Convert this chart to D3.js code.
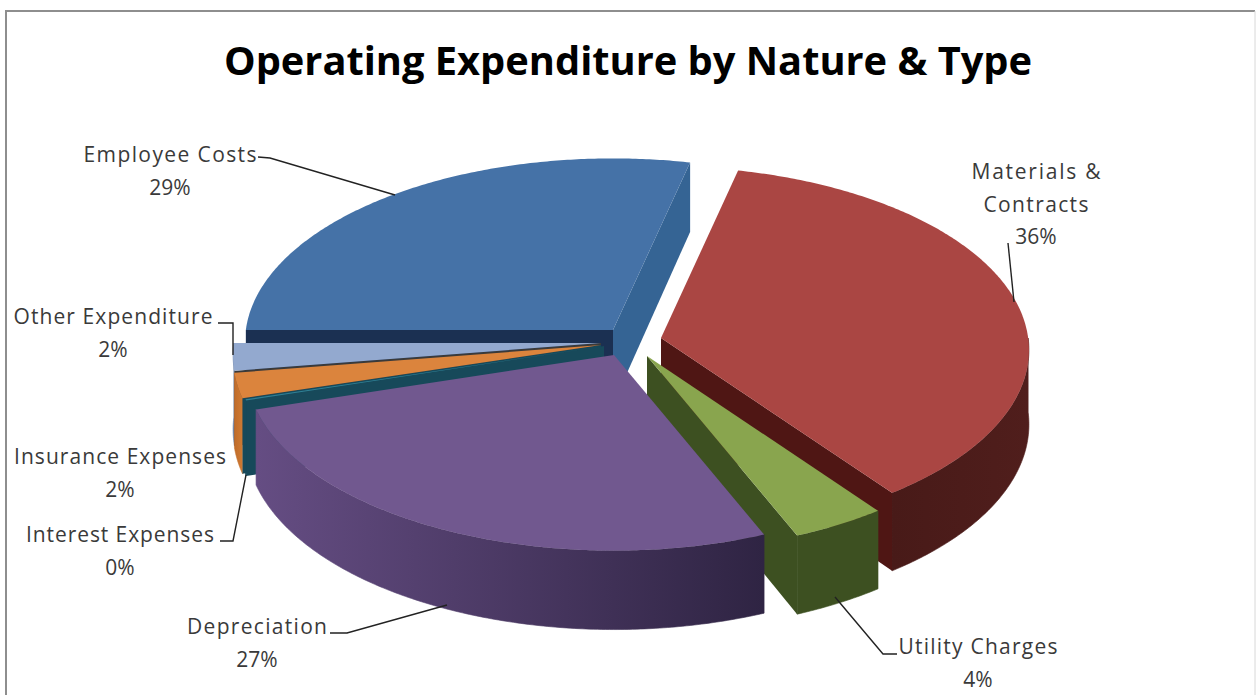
<!DOCTYPE html>
<html>
<head>
<meta charset="utf-8">
<title>Operating Expenditure by Nature &amp; Type</title>
<script src="https://cdn.jsdelivr.net/npm/d3@7"></script>
<style>
  html, body { margin: 0; padding: 0; background: #fff; }
  svg { display: block; }
  text { font-family: "Open Sans", "Noto Sans", sans-serif; }
</style>
</head>
<body>
<svg id="chart" width="1256" height="695"></svg>
<script>
// Chart content
const chartTitle = "Operating Expenditure by Nature & Type";
const categories = ["Employee Costs", "Materials & Contracts", "Utility Charges", "Depreciation",
                    "Interest Expenses", "Insurance Expenses", "Other Expenditure"];
const shares = [28.6, 36.2, 3.9, 26.6, 0.1, 2.2, 2.4];

// Slice colours: top face, wall (start and end of a horizontal gradient), radial side face
const topColors = ["#4572a7", "#aa4643", "#89a54e", "#71588f", "#2f7f94", "#db843d", "#93a9cf"];
const wallFrom = ["#2a4a75", "#501e1c", "#3d5021", "#654d83", "#17495a", "#cf7a33", "#6c83a8"];
const wallTo = ["#2a4a75", "#481a18", "#3d5021", "#2f2443", "#17495a", "#c06c2a", "#6c83a8"];
const startFaceColors = ["#1b3052", "#4a1a18", "#3d5021", "#3a2c52", "#17495a", "#17495a", "#3a3a3a"];
const endFaceColors = ["#356494", "#4f1614", "#3d5021", "#3a2c52", "#17495a", "#17495a", "#17495a"];

// Position of each slice's apex once exploded, same order as the categories
const apexes = [[613, 330], [661, 338], [647, 356], [614, 355], [604, 346], [601, 345], [601, 343]];

// Painter's order, back to front
const drawOrder = [0, 6, 5, 4, 1, 2, 3];

// Data label placement: text centre, first baseline, fitted name widths, leader polyline
const labelLayout = [
  { x: 170, y: 162, widths: [173], leader: [[258, 157], [270, 158], [395, 195]] },
  { x: 1036, y: 179, widths: [129, 105], leader: [[1008, 243], [1014, 302]], wrap: true },
  { x: 978, y: 654, widths: [159], leader: [[897, 654], [883, 654], [835, 597]] },
  { x: 257, y: 634, widths: [140], leader: [[330, 633], [347, 633], [447, 605]] },
  { x: 120, y: 542, widths: [188], leader: [[220, 541], [233, 541], [246, 475]] },
  { x: 120, y: 464, widths: [212], leader: [] },
  { x: 113, y: 324, widths: [199], leader: [[218, 323], [233, 323], [233, 355]] }
];

const radiusX = 369;
const tilt = 0.5;
const depth = 74.5;
const lineGap = 32.5;

const svg = d3.select("#chart");
const defs = svg.append("defs");

// Frame around the chart area
svg.append("path").attr("d", "M6,695V11H1255").attr("fill", "none").attr("stroke", "#8e8e8e").attr("stroke-width", 2);
svg.append("path").attr("d", "M1255,11V695").attr("fill", "none").attr("stroke", "#d8d8d8").attr("stroke-width", 1);

svg.append("text").attr("x", 628).attr("y", 75).attr("text-anchor", "middle")
  .attr("font-size", 40).attr("font-weight", 700).attr("fill", "#000")
  .attr("textLength", 808).attr("lengthAdjust", "spacingAndGlyphs").text(chartTitle);

// Clockwise from nine o'clock, angles measured from twelve o'clock
const pie = d3.pie().sort(null).startAngle(1.5 * Math.PI).endAngle(3.5 * Math.PI);
const slices = pie(shares);

// Nearer points are drawn larger to give the disc its perspective
const perspective = d3.scaleLinear().domain([-1, 1]).range([0.93, 1.06]);

function project(i, angle, lowered) {
  const v = -Math.cos(angle);
  const s = perspective(v);
  return [
    apexes[i][0] + radiusX * s * Math.sin(angle),
    apexes[i][1] + radiusX * s * tilt * v + (lowered ? depth * s : 0)
  ];
}

function arcPoints(i, a0, a1, lowered) {
  const steps = Math.max(2, Math.ceil((a1 - a0) / 0.01));
  return d3.range(steps + 1).map(k => project(i, a0 + (a1 - a0) * k / steps, lowered));
}

const line = d3.line().curve(d3.curveLinear);
const apexPoint = (i, lowered) => {
  const s = perspective(0);
  return [apexes[i][0], apexes[i][1] + (lowered ? depth * s : 0)];
};

const sliceGroups = svg.append("g").selectAll("g").data(drawOrder).join("g");

sliceGroups.each(function (i) {
  const d = slices[i];
  const g = d3.select(this);
  const top = arcPoints(i, d.startAngle, d.endAngle, false);
  const bottom = arcPoints(i, d.startAngle, d.endAngle, true);

  // Outer wall: only the part of the arc on the near half of the disc is drawn
  const wrapped = [0, 2 * Math.PI].map(o => [
    Math.max(d.startAngle, Math.PI / 2 + o),
    Math.min(d.endAngle, 1.5 * Math.PI + o)
  ]).filter(r => r[1] > r[0]);
  wrapped.forEach(([a0, a1]) => {
    const upper = arcPoints(i, a0, a1, false);
    const lower = arcPoints(i, a0, a1, true);
    const xs = d3.extent(upper, p => p[0]);
    const gradId = "wall-" + i;
    const leftFirst = i === 3;
    const grad = defs.append("linearGradient").attr("id", gradId)
      .attr("gradientUnits", "userSpaceOnUse")
      .attr("x1", xs[0]).attr("x2", xs[1]).attr("y1", 0).attr("y2", 0);
    grad.append("stop").attr("offset", 0).attr("stop-color", leftFirst ? wallFrom[i] : wallTo[i]);
    grad.append("stop").attr("offset", 1).attr("stop-color", leftFirst ? wallTo[i] : wallFrom[i]);
    g.append("path").attr("fill", `url(#${gradId})`).attr("stroke", `url(#${gradId})`).attr("stroke-width", 0.6)
      .attr("d", line(upper.concat(lower.slice().reverse())) + "Z");
  });

  // Radial faces, kept only when they turn towards the viewer
  if (Math.sin(d.startAngle) < 0) {
    g.append("path").attr("fill", startFaceColors[i])
      .attr("d", line([apexPoint(i, false), top[0], bottom[0], apexPoint(i, true)]) + "Z");
  }
  if (Math.sin(d.endAngle) > 0) {
    g.append("path").attr("fill", endFaceColors[i])
      .attr("d", line([apexPoint(i, false), top[top.length - 1], bottom[bottom.length - 1], apexPoint(i, true)]) + "Z");
  }

  // Top face
  g.append("path").attr("fill", topColors[i])
    .attr("d", line([apexPoint(i, false)].concat(top)) + "Z");
});

// Data labels and leader lines
const labels = svg.append("g").selectAll("g").data(categories).join("g");

labels.each(function (name, i) {
  const layout = labelLayout[i];
  const g = d3.select(this);
  if (layout.leader.length) {
    g.append("path").attr("fill", "none").attr("stroke", "#222").attr("stroke-width", 1.4)
      .attr("d", line(layout.leader));
  }
  const nameLines = layout.wrap ? ["Materials &", "Contracts"] : [name];
  const lines = nameLines.concat(Math.round(shares[i]) + "%");
  lines.forEach((t, k) => {
    const label = g.append("text").attr("x", layout.x).attr("y", layout.y + k * lineGap)
      .attr("text-anchor", "middle").attr("font-size", 21).attr("fill", "#3a3a3a").text(t);
    if (k < nameLines.length) {
      label.attr("textLength", layout.widths[k]).attr("lengthAdjust", "spacing");
    }
  });
});
</script>
</body>
</html>
